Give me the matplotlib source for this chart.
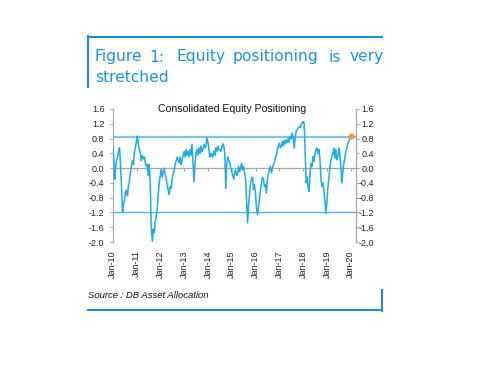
import numpy as np
import pandas as pd
import matplotlib
matplotlib.use("Agg")
import matplotlib.pyplot as plt
import matplotlib.dates as mdates
from matplotlib.lines import Line2D

# semi-monthly readings of the positioning index, Jan 2010 .. Dec 2019, plus a final point
vals_2010 = [0.55, 0.35, -0.3, 0.0, 0.2, 0.3, 0.45, 0.55, 0.1, -0.5, -1.2, -1.0,
             -0.85, -0.65, -0.6, -0.75, -0.45, -0.35, -0.1, 0.05, 0.2, 0.1, 0.45, 0.55]
vals_2011 = [0.75, 0.87, 0.6, 0.5, 0.4, 0.2, 0.35, 0.25, 0.3, 0.15, 0.05, 0.1,
             -0.2, 0.1, -0.5, -1.6, -1.98, -1.65, -1.75, -1.45, -1.3, -1.1, -0.7, -0.4]
vals_2012 = [-0.2, -0.05, -0.25, -0.1, 0.0, -0.15, -0.3, -0.45, -0.6, -0.72, -0.5, -0.55,
             -0.3, -0.18, -0.05, 0.1, 0.2, 0.3, 0.2, 0.15, 0.3, 0.1, 0.2, 0.35]
vals_2013 = [0.45, 0.3, 0.5, 0.35, 0.45, 0.3, 0.5, 0.35, 0.65, 0.2, -0.37, 0.1,
             0.4, 0.5, 0.35, 0.55, 0.4, 0.6, 0.45, 0.5, 0.65, 0.55, 0.6, 0.82]
vals_2014 = [0.7, 0.5, 0.3, 0.4, 0.35, 0.3, 0.45, 0.35, 0.55, 0.45, 0.6, 0.5,
             0.5, 0.45, 0.55, 0.66, 0.6, 0.4, -0.55, 0.1, 0.3, 0.2, 0.15, 0.0]
vals_2015 = [-0.1, -0.2, -0.3, -0.1, -0.05, -0.2, -0.15, 0.05, -0.1, 0.0, 0.13, -0.05,
             0.05, -0.1, -0.3, -0.85, -1.48, -1.0, -0.7, -0.4, -0.3, -0.25, -0.58, -0.45]
vals_2016 = [-0.7, -1.1, -1.26, -1.05, -0.85, -0.6, -0.4, -0.25, -0.3, -0.5, -0.45, -0.68,
             -0.3, -0.15, -0.05, 0.05, -0.13, 0.0, 0.09, 0.15, 0.27, 0.35, 0.5, 0.6]
vals_2017 = [0.67, 0.55, 0.6, 0.72, 0.6, 0.75, 0.65, 0.77, 0.7, 0.8, 0.7, 0.85,
             0.8, 0.95, 0.8, 0.54, 0.85, 1.0, 1.05, 1.08, 1.12, 1.1, 1.18, 1.22]
vals_2018 = [1.26, 1.2, 0.3, -0.4, -0.25, -0.5, -0.63, -0.13, 0.13, 0.05, 0.31, 0.18,
             0.4, 0.5, 0.54, 0.4, 0.5, 0.2, -0.3, -0.5, -0.4, -0.63, -0.9, -1.22]
vals_2019 = [-0.85, -0.5, -0.22, 0.05, 0.22, 0.3, 0.4, 0.54, 0.27, 0.5, 0.22, 0.3,
             0.54, 0.4, 0.05, -0.4, -0.1, 0.13, 0.27, 0.45, 0.54, 0.67, 0.72, 0.8]
vals_last = [0.87]

values = (vals_2010 + vals_2011 + vals_2012 + vals_2013 + vals_2014 + vals_2015 +
          vals_2016 + vals_2017 + vals_2018 + vals_2019 + vals_last)
dates = pd.date_range("2010-01-01", "2020-01-01", freq="SMS")

upper_band = 0.83
lower_band = -1.2
yticks = [1.6, 1.2, 0.8, 0.4, 0.0, -0.4, -0.8, -1.2, -1.6, -2.0]
years = list(range(2010, 2021))

W, H = 480, 373
fig = plt.figure(figsize=(W / 100, H / 100), dpi=100)
plt.rcParams["font.family"] = ["Liberation Sans", "DejaVu Sans"]

frame_blue = "#1190d8"
line_blue = "#18aeea"
band_blue = "#7cc4ea"
grey = "#a6a6a6"

def px(x, y):
    return x / W, 1 - y / H

ax = fig.add_axes([112.7 / W, 1 - 242 / H, (356 - 112.7) / W, (242 - 109) / H])

ax.plot(dates, values, color=line_blue, lw=1.1, zorder=3)
ax.plot(dates[-1:], values[-1:], "o", color="#f39a45", ms=3.5, zorder=4)
ax.axhline(upper_band, color=band_blue, lw=1.6, zorder=2)
ax.axhline(lower_band, color="#5aaee0", lw=1.0, zorder=2)

x0 = mdates.date2num(pd.Timestamp("2010-01-01"))
x1 = mdates.date2num(pd.Timestamp("2020-03-20"))
ax.set_xlim(x0, x1)
ax.set_ylim(-2.0, 1.6)

ticks = [pd.Timestamp(f"{y}-01-01") for y in years]
ax.set_xticks(ticks)
ax.set_xticklabels([f"Jan-{str(y)[2:]}" for y in years], rotation=90, fontsize=6.5)
ax.tick_params(axis="x", length=0, pad=5.8, colors="#222222")

for s in ["top", "bottom"]:
    ax.spines[s].set_visible(False)
for s in ["left", "right"]:
    ax.spines[s].set_color(grey)
    ax.spines[s].set_linewidth(0.8)

ax.set_yticks(yticks)
ax.set_yticklabels([f"{v:.1f}" for v in yticks], fontsize=6.5, color="#222222")
ax.tick_params(axis="y", length=2.5, width=0.8, color=grey, pad=3.4)

# right axis copy
ax2 = ax.twinx()
ax2.set_ylim(-2.0, 1.6)
ax2.set_yticks(yticks)
ax2.set_yticklabels([f"{v:.1f}" for v in yticks], fontsize=6.5, color="#222222", ha="right")
ax2.tick_params(axis="y", length=2.5, width=0.8, color=grey, pad=10.5)
for s in ["top", "bottom", "left"]:
    ax2.spines[s].set_visible(False)
ax2.spines["right"].set_color(grey)
ax2.spines["right"].set_linewidth(0.8)

# zero line carries the year ticks
zero_pos = (0 - (-2.0)) / 3.6
sec = ax.secondary_xaxis(zero_pos)
sec.set_xticks(ticks)
sec.set_xticklabels([])
sec.tick_params(axis="x", length=2.5, width=0.8, color=grey, direction="out")
sec.spines["bottom"].set_color(grey)
sec.spines["bottom"].set_linewidth(0.9)
sec.spines["top"].set_visible(False)
sec.xaxis.set_ticks_position("bottom")
sec.spines["bottom"].set_visible(True)

fig.text(*px(232, 111.5), "Consolidated Equity Positioning", fontsize=7.6,
         ha="center", va="baseline", color="#111111")

# heading, words spread like justified text
head_words = ["Figure", "1:", "Equity", "positioning", "is", "very"]
head_x = [95, 149, 177, 233, 329, 350]
for w, x in zip(head_words, head_x):
    fig.text(*px(x, 61.5), w, fontsize=11.2, color="#1a96d8", ha="left",
             va="baseline", family="DejaVu Sans")
fig.text(*px(95, 82.5), "stretched", fontsize=11.2, color="#1a96d8", ha="left",
         va="baseline", family="DejaVu Sans")

fig.text(*px(88, 298), "Source : DB Asset Allocation", fontsize=6.8, style="italic",
         color="#111111", ha="left", va="baseline")

# frame lines around heading and source
for xs, ys, lw in [([88, 382], [37, 37], 2.0), ([88, 88], [36, 87], 2.0),
                   ([88, 382], [310, 310], 2.0), ([381.5, 381.5], [290, 311], 2.0)]:
    fig.add_artist(Line2D([x / W for x in xs], [1 - y / H for y in ys],
                          color=frame_blue, lw=lw * 0.72, transform=fig.transFigure))

fig.savefig("out.png", dpi=100)
